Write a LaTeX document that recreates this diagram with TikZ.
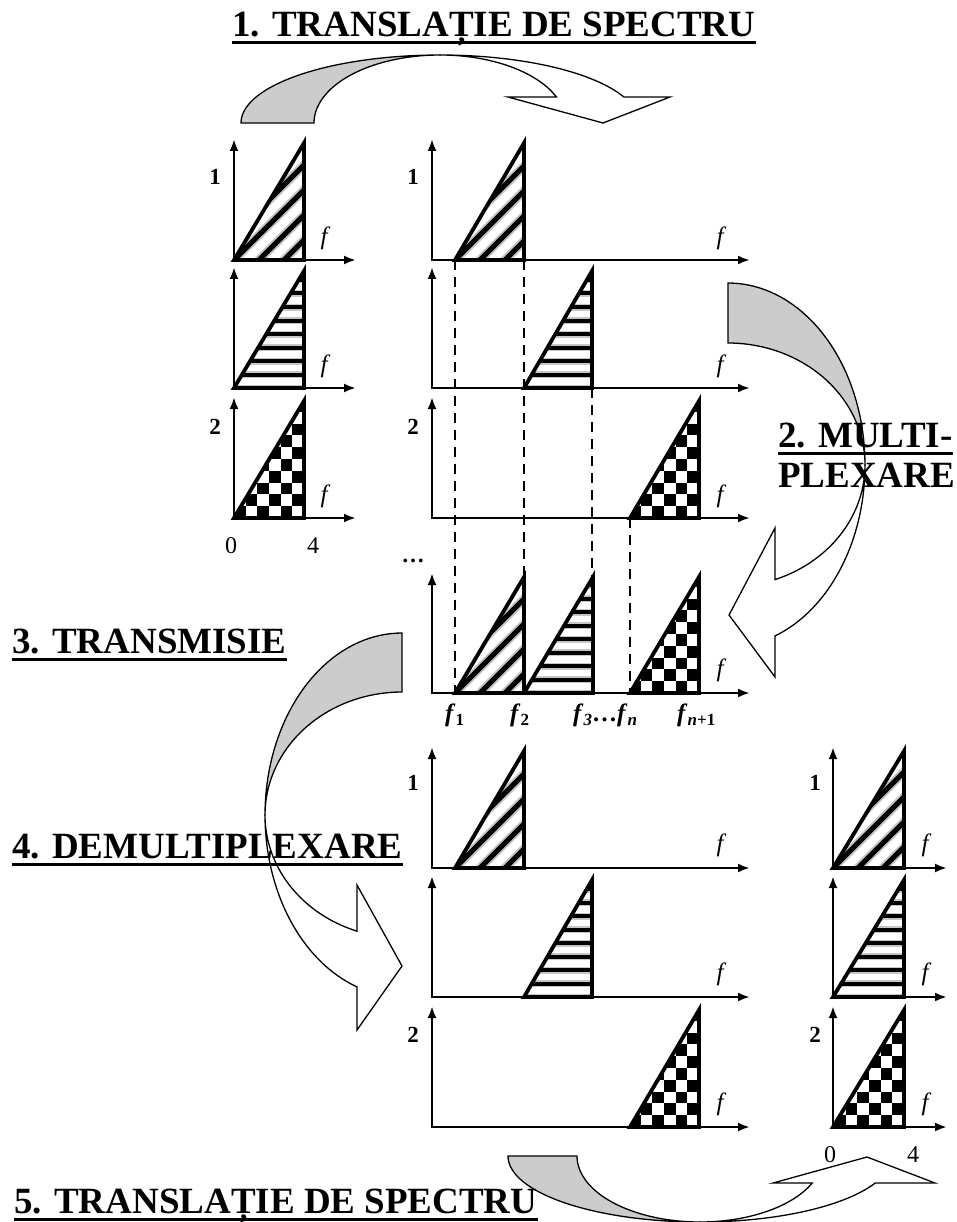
\documentclass[tikz,border=0pt]{standalone}
\usepackage{fontspec}
\setmainfont{Liberation Serif}
\usetikzlibrary{arrows.meta}
\definecolor{bandgray}{RGB}{204,204,204}
\newcommand{\myaxes}[4]{\draw[axisline] (#1,#4) -- (#1,#2) -- (#3,#2);}
\newcommand{\tridiag}[4]{%
  \begin{scope}
    \clip (#1,#3) -- (#2,#4) -- (#2,#3) -- cycle;
    \foreach \k in {-5,...,6} {
      \draw[line width=9pt, gray!45] ({#1+\k*25-150},{#3+150}) -- ({#1+\k*25+150},{#3-150});
      \draw[line width=5pt] ({#1+\k*25-150},{#3+150}) -- ({#1+\k*25+150},{#3-150});
    }
  \end{scope}
  \draw[triline] (#1,#3) -- (#2,#4) -- (#2,#3) -- cycle;}
\newcommand{\trihor}[4]{%
  \begin{scope}
    \clip (#1,#3) -- (#2,#4) -- (#2,#3) -- cycle;
    \foreach \k in {0,...,9} {
      \draw[line width=7pt, gray!45] ({#1-5},{#3-\k*13.5}) -- ({#2+5},{#3-\k*13.5});
      \draw[line width=4pt] ({#1-5},{#3-\k*13.5}) -- ({#2+5},{#3-\k*13.5});
    }
  \end{scope}
  \draw[triline] (#1,#3) -- (#2,#4) -- (#2,#3) -- cycle;}
\newcommand{\trichk}[4]{%
  \begin{scope}
    \clip (#1,#3) -- (#2,#4) -- (#2,#3) -- cycle;
    \foreach \i in {0,...,5} {
      \foreach \j in {0,...,10} {
        \pgfmathtruncatemacro\chkpar{mod(\i+\j,2)}
        \ifnum\chkpar=1\relax
          \fill ({#2-(\i+1)*11.7},{#3-\j*11.8}) rectangle ({#2-\i*11.7},{#3-(\j+1)*11.8});
        \fi
      }
    }
  \end{scope}
  \draw[triline] (#1,#3) -- (#2,#4) -- (#2,#3) -- cycle;}
\newcommand{\fb}{\textbf{\textit{f}}}
\newcommand{\sbs}[1]{\raisebox{-4pt}{\fontsize{17}{17}\selectfont\bfseries #1}}
\begin{document}
\begin{tikzpicture}[x=1pt,y=-1pt,
  axisline/.style={line width=2.6pt, {Latex[length=12pt,width=9pt]}-{Latex[length=12pt,width=9pt]}},
  triline/.style={line width=3.8pt, line join=miter},
  dashline/.style={line width=2.4pt, dash pattern=on 10pt off 7pt},
  band/.style={line width=1.3pt, draw=black},
  title/.style={font=\fontsize{37}{40}\selectfont\bfseries, inner sep=0pt, anchor=base west},
  num/.style={font=\fontsize{23}{23}\selectfont\bfseries, inner sep=0pt},
  flab/.style={font=\fontsize{25}{25}\selectfont\itshape, inner sep=0pt},
  ticklab/.style={font=\fontsize{24}{24}\selectfont, inner sep=0pt},
  mlab/.style={font=\fontsize{25}{25}\selectfont, inner sep=0pt, anchor=base west},
  uline/.style={line width=3pt}
]
\fill[white] (0,0) rectangle (957,1222);
\useasboundingbox (0,0) rectangle (957,1222);

% ---------- curved arrows ----------
% arrow 1 (top)
\filldraw[band, fill=bandgray] plot[domain=180:270, samples=40, variable=\t] ({440+199*cos(\t)},{123+68*sin(\t)})
  -- plot[domain=270:180, samples=40, variable=\t] ({440+126*cos(\t)},{123+68*sin(\t)}) -- cycle;
\filldraw[band, fill=white] plot[domain=270:337.5, samples=40, variable=\t] ({440+199*cos(\t)},{123+68*sin(\t)})
  -- (670,97) -- (603,123) -- (508,97)
  -- plot[domain=337.5:270, samples=40, variable=\t] ({440+126*cos(\t)},{123+68*sin(\t)}) -- cycle;
% arrow 2 (multiplexare)
\filldraw[band, fill=bandgray] plot[domain=-90:0, samples=40, variable=\t] ({728+137*cos(\t)},{465+182*sin(\t)})
  -- plot[domain=0:-90, samples=40, variable=\t] ({728+137*cos(\t)},{465+122*sin(\t)}) -- cycle;
\filldraw[band, fill=white] plot[domain=0:69.9, samples=40, variable=\t] ({728+137*cos(\t)},{465+182*sin(\t)})
  -- (775,677) -- (729,615) -- (775,528)
  -- plot[domain=69.9:0, samples=40, variable=\t] ({728+137*cos(\t)},{465+122*sin(\t)}) -- cycle;
% arrow 3 (transmisie / demultiplexare)
\filldraw[band, fill=bandgray] plot[domain=270:180, samples=40, variable=\t] ({402+137*cos(\t)},{815+182*sin(\t)})
  -- plot[domain=180:270, samples=40, variable=\t] ({402+137*cos(\t)},{815+123*sin(\t)}) -- cycle;
\filldraw[band, fill=white] plot[domain=180:109.2, samples=40, variable=\t] ({402+137*cos(\t)},{815+182*sin(\t)})
  -- (357,1030) -- (402,966) -- (357,885)
  -- plot[domain=109.2:180, samples=40, variable=\t] ({402+137*cos(\t)},{815+123*sin(\t)}) -- cycle;
% arrow 5 (bottom)
\filldraw[band, fill=bandgray] plot[domain=180:90, samples=40, variable=\t] ({700+192*cos(\t)},{1156+66*sin(\t)})
  -- plot[domain=90:180, samples=40, variable=\t] ({700+123*cos(\t)},{1156+66*sin(\t)}) -- cycle;
\filldraw[band, fill=white] plot[domain=90:24.1, samples=40, variable=\t] ({700+192*cos(\t)},{1156+66*sin(\t)})
  -- (935,1183) -- (867,1157) -- (773,1183)
  -- plot[domain=24.1:90, samples=40, variable=\t] ({700+123*cos(\t)},{1156+66*sin(\t)}) -- cycle;

% ---------- dashed guide lines ----------
\draw[dashline] (455,260) -- (455,693);
\draw[dashline] (524,260) -- (524,693);
\draw[dashline] (592,388) -- (592,693);
\draw[dashline] (630,518) -- (630,693);

% ---------- column A (small, top-left) ----------
\myaxes{234}{260}{356}{139}
\myaxes{234}{388}{356}{267}
\myaxes{234}{518}{356}{397}
\tridiag{234}{304}{260}{143}
\trihor{234}{304}{388}{271}
\trichk{234}{304}{518}{401}
\node[num] (a1) at (215,177) {1};
\node[num] (a2) at (215,427) {2};
\node[flab] (af1) at (324,238) {f};
\node[flab] (af2) at (324,366) {f};
\node[flab] (af3) at (324,496) {f};
\node[ticklab] (a0) at (231,546) {0};
\node[ticklab] (a4) at (313,546) {4};

% ---------- column B (shifted spectra) ----------
\myaxes{432}{260}{750}{139}
\myaxes{432}{388}{750}{267}
\myaxes{432}{518}{750}{397}
\tridiag{455}{524}{260}{143}
\trihor{524}{592}{388}{271}
\trichk{630}{699}{518}{401}
\node[num] (b1) at (413,177) {1};
\node[num] (b2) at (413,427) {2};
\node[flab] (bf1) at (720,238) {f};
\node[flab] (bf2) at (720,366) {f};
\node[flab] (bf3) at (720,496) {f};

% ---------- multiplexed spectrum ----------
\node[num] (dots) at (413,561) {…};
\myaxes{432}{693}{750}{573}
\tridiag{455}{524}{693}{577}
\trihor{524}{593}{693}{577}
\trichk{630}{699}{693}{577}
\node[flab] (mf) at (720,670) {f};
\node[mlab] (mf1) at (445,721) {\fb\sbs{1}};
\node[mlab] (mf2) at (510,721) {\fb\sbs{2}};
\node[mlab] (mf3) at (573,721) {\fb\sbs{\textit{3}}\textbf{…}\fb\sbs{\textit{n}}};
\node[mlab] (mfn) at (677,721) {\fb\sbs{\textit{n}+1}};

% ---------- column C (demultiplexed) ----------
\myaxes{432}{868}{750}{747}
\myaxes{432}{997}{750}{876}
\myaxes{432}{1127}{750}{1006}
\tridiag{455}{524}{868}{751}
\trihor{524}{592}{997}{880}
\trichk{630}{699}{1127}{1010}
\node[num] (c1) at (413,783) {1};
\node[num] (c2) at (413,1035) {2};
\node[flab] (cf1) at (720,845) {f};
\node[flab] (cf2) at (720,974) {f};
\node[flab] (cf3) at (720,1104) {f};

% ---------- column D (small, bottom-right) ----------
\myaxes{833}{868}{947}{747}
\myaxes{833}{997}{947}{876}
\myaxes{833}{1127}{947}{1006}
\tridiag{833}{904}{868}{751}
\trihor{833}{904}{997}{880}
\trichk{833}{904}{1127}{1010}
\node[num] (d1) at (815,783) {1};
\node[num] (d2) at (815,1035) {2};
\node[flab] (df1) at (925,845) {f};
\node[flab] (df2) at (925,974) {f};
\node[flab] (df3) at (925,1104) {f};
\node[ticklab] (d0) at (830,1155) {0};
\node[ticklab] (d4) at (913,1155) {4};

% ---------- titles ----------
\node[title] (t1) at (232,37) {1. TRANSLAȚIE DE SPECTRU};
\draw[uline] ([yshift=-6pt]t1.base west) -- ([yshift=-6pt]t1.base east);
\node[title] (t2) at (778,447) {2. MULTI-};
\draw[uline] ([yshift=-6pt]t2.base west) -- ([yshift=-6pt]t2.base east);
\node[title] (t2b) at (778,487) {PLEXARE};
\node[title] (t3) at (12,653) {3. TRANSMISIE};
\draw[uline] ([yshift=-6pt]t3.base west) -- ([yshift=-6pt]t3.base east);
\node[title] (t4) at (12,858) {4. DEMULTIPLEXARE};
\draw[uline] ([yshift=-6pt]t4.base west) -- ([yshift=-6pt]t4.base east);
\node[title] (t5) at (14,1213) {5. TRANSLAȚIE DE SPECTRU};
\draw[uline] ([yshift=-6pt]t5.base west) -- ([yshift=-6pt]t5.base east);
\end{tikzpicture}
\end{document}
